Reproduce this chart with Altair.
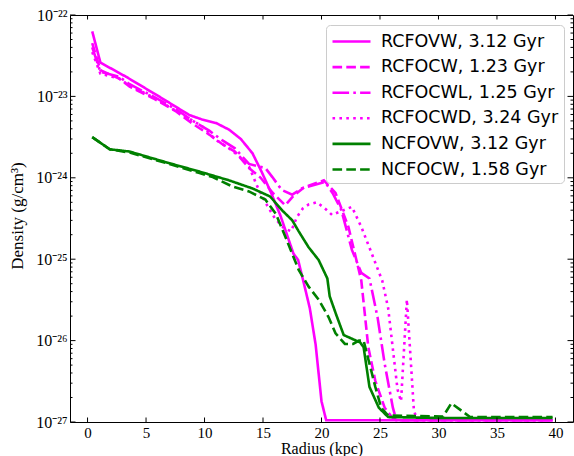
import json
import altair as alt
import pandas as pd

# ---------------- data ----------------
SERIES = ["RCFOVW, 3.12 Gyr", "RCFOCW, 1.23 Gyr", "RCFOCWL, 1.25 Gyr",
          "RCFOCWD, 3.24 Gyr", "NCFOVW, 3.12 Gyr", "NCFOCW, 1.58 Gyr"]

RCFOVW_R = [0.4, 1.1, 3.3, 6.1, 8.7, 9.8, 11.0, 12.1, 13.1, 14.1, 14.9, 15.7, 16.5,
            17.6, 18.0, 18.5, 19.0, 19.5, 20.0, 20.4, 25.0, 30.0, 35.0, 39.75]
RCFOVW_D = [6.3e-23, 2.6e-23, 1.74e-23, 1.0e-23, 5.9e-24, 5.2e-24, 4.7e-24, 3.9e-24,
            3.0e-24, 2.0e-24, 1.17e-24, 6.5e-25, 3.4e-25, 1.17e-25, 9.8e-26, 5.0e-26,
            2.5e-26, 8.9e-27, 1.8e-27, 1.05e-27, 1.05e-27, 1.05e-27, 1.05e-27, 1.05e-27]

RCFOCW_R = [0.4, 1.1, 2.7, 3.6, 5.6, 7.6, 9.0, 10.4, 11.5, 12.6, 13.8, 14.8, 15.8, 16.9,
            17.6, 18.5, 20.2, 21.2, 22.3, 23.4, 24.0, 24.6, 25.4, 26.0, 26.5, 30.0, 35.0, 39.75]
RCFOCW_D = [4.5e-23, 2.1e-23, 1.66e-23, 1.32e-23, 9.5e-24, 6.5e-24, 4.6e-24, 3.4e-24,
            2.6e-24, 2.1e-24, 1.32e-24, 1.0e-24, 6.6e-25, 4.6e-25, 6.0e-25, 7.6e-25,
            9.3e-25, 6.5e-25, 2.5e-25, 5.5e-26, 8.3e-27, 3.2e-27, 1.5e-27, 1.15e-27,
            1.05e-27, 1.05e-27, 1.05e-27, 1.05e-27]

RCFOCWL_R = [0.4, 1.1, 2.7, 3.6, 5.6, 7.6, 9.0, 10.4, 11.5, 12.6, 13.8, 14.6, 15.2, 15.8,
             16.6, 17.5, 18.3, 20.3, 21.0, 21.7, 22.6, 23.4, 24.1, 24.8, 25.4, 26.1, 26.4,
             30.0, 35.0, 39.75]
RCFOCWL_D = [4.0e-23, 2.0e-23, 1.74e-23, 1.41e-23, 1.0e-23, 6.9e-24, 5.0e-24, 3.8e-24,
             2.9e-24, 2.3e-24, 1.48e-24, 1.38e-24, 1.32e-24, 1.02e-24, 7.1e-25, 6.2e-25,
             7.4e-25, 8.9e-25, 6.3e-25, 4.0e-25, 1.3e-25, 6.8e-26, 5.8e-26, 1.9e-26,
             5.2e-27, 1.5e-27, 1.05e-27, 1.05e-27, 1.05e-27, 1.05e-27]

RCFOCWD_R = [0.4, 1.1, 2.7, 3.6, 5.6, 7.6, 9.8, 11.0, 12.1, 13.0, 13.8, 14.5, 15.2, 16.0,
             16.8, 17.4, 17.9, 18.4, 18.9, 19.6, 20.3, 20.9, 21.7, 22.6, 23.4, 24.3, 25.2,
             25.7, 26.1, 26.5, 26.8, 27.3, 27.9, 28.2, 30.0, 35.0, 39.75]
RCFOCWD_D = [3.5e-23, 1.9e-23, 1.66e-23, 1.35e-23, 9.8e-24, 6.6e-24, 4.3e-24, 2.9e-24,
             2.3e-24, 1.82e-24, 1.38e-24, 7.9e-25, 5.0e-25, 3.2e-25, 2.4e-25, 2.2e-25,
             3.3e-25, 4.2e-25, 4.7e-25, 5.0e-25, 4.2e-25, 3.5e-25, 3.9e-25, 4.4e-25,
             2.5e-25, 1.17e-25, 5.4e-26, 2.5e-26, 7.9e-27, 2.5e-27, 1.8e-27, 3.2e-26,
             1.38e-27, 1.05e-27, 1.05e-27, 1.05e-27, 1.05e-27]

NCFOVW_R = [0.4, 1.9, 3.6, 7.0, 9.5, 12.1, 14.1, 15.6, 16.7, 17.5, 18.05, 18.9, 19.75,
            20.5, 20.7, 21.3, 21.9, 23.3, 23.6, 24.1, 24.9, 25.7, 30.0, 35.0, 39.75]
NCFOVW_D = [3.16e-24, 2.24e-24, 2.1e-24, 1.51e-24, 1.2e-24, 9.3e-25, 7.4e-25, 5.9e-25,
            3.9e-25, 3.0e-25, 2.2e-25, 1.4e-25, 9.8e-26, 5.8e-26, 3.5e-26, 2.0e-26,
            1.17e-26, 9.5e-27, 8.3e-27, 2.7e-27, 1.5e-27, 1.15e-27, 1.12e-27, 1.12e-27, 1.12e-27]

NCFOCW_R = [0.4, 1.9, 3.6, 7.0, 9.5, 10.7, 12.4, 13.8, 15.2, 16.1, 16.9, 18.05, 18.9,
            19.75, 20.6, 21.2, 22.0, 22.7, 23.2, 23.6, 24.1, 24.6, 25.1, 25.7, 30.4, 31.1,
            32.7, 35.0, 39.75]
NCFOCW_D = [3.16e-24, 2.24e-24, 2.04e-24, 1.48e-24, 1.15e-24, 1.02e-24, 7.8e-25, 6.8e-25,
            5.4e-25, 3.6e-25, 1.9e-25, 7.4e-26, 4.6e-26, 3.2e-26, 1.95e-26, 1.23e-26,
            9.1e-27, 9.1e-27, 1.0e-26, 1.0e-26, 5.2e-27, 2.7e-27, 1.5e-27, 1.2e-27,
            1.17e-27, 1.7e-27, 1.15e-27, 1.15e-27, 1.15e-27]

X_TICKS = [0, 5, 10, 15, 20, 25, 30, 35, 40]
Y_TICKS = [1e-27, 1e-26, 1e-25, 1e-24, 1e-23, 1e-22]
Y_LABELS = ["10⁻²⁷", "10⁻²⁶", "10⁻²⁵", "10⁻²⁴", "10⁻²³", "10⁻²²"]

# ---------------- styles ----------------
COLORS = ["#ff00ff", "#ff00ff", "#ff00ff", "#ff00ff", "#008000", "#008000"]
LW = 2.6
DASHES = [[1, 0], [9.6, 4.2], [16.6, 4.2, 2.6, 4.2], [2.6, 4.3], [1, 0], [9.6, 4.2]]
MAJOR_LEN, MINOR_LEN = 4.5, 2.5

W, H = 503, 407
SERIF = "Liberation Serif"

# ---------------- table ----------------
pairs = [(RCFOVW_R, RCFOVW_D), (RCFOCW_R, RCFOCW_D), (RCFOCWL_R, RCFOCWL_D),
         (RCFOCWD_R, RCFOCWD_D), (NCFOVW_R, NCFOVW_D), (NCFOCW_R, NCFOCW_D)]
rows = []
for name, (rr, dd) in zip(SERIES, pairs):
    for i, (r, d) in enumerate(zip(rr, dd)):
        rows.append({"series": name, "r": r, "d": d, "i": i})
df = pd.DataFrame(rows)

Y_MINOR = [k * 10.0 ** e for e in range(-27, -22) for k in range(2, 10)]
xt = pd.DataFrame({"r": X_TICKS})
yt = pd.DataFrame({"d": Y_TICKS})
ym = pd.DataFrame({"d": Y_MINOR})

xs = alt.Scale(domain=[-1.5, 41.5], nice=False, zero=False)
ys = alt.Scale(type="log", domain=[1e-27, 1e-22], nice=False)

label_expr = json.dumps(Y_LABELS, ensure_ascii=False) + "[round(log(datum.value)/LN10)+27]"

lines = alt.Chart(df).mark_line(strokeWidth=LW, clip=True).encode(
    x=alt.X("r:Q", scale=xs, axis=alt.Axis(
        values=X_TICKS, ticks=False, domain=False, grid=False, labelFlush=False,
        labelFont=SERIF, labelFontSize=15, labelPadding=3, labelColor="black",
        title="Radius  (kpc)", titleFont=SERIF, titleFontSize=16, titleFontWeight="normal",
        titleColor="black", titleY=18, titleBaseline="top")),
    y=alt.Y("d:Q", scale=ys, axis=alt.Axis(
        values=Y_TICKS, labelExpr=label_expr, ticks=False, domain=False, grid=False,
        labelFont=SERIF, labelFontSize=16, labelPadding=3, labelColor="black",
        title="Density  (g/cm³)", titleFont=SERIF, titleFontSize=17,
        titleFontWeight="normal", titleColor="black", titleX=-53, titleY=H / 2 - 3,
        titleAngle=-90, titleAlign="center", titleBaseline="middle")),
    color=alt.Color("series:N", scale=alt.Scale(domain=SERIES, range=COLORS),
                    legend=alt.Legend(title=None)),
    strokeDash=alt.StrokeDash("series:N", scale=alt.Scale(domain=SERIES, range=DASHES),
                              legend=alt.Legend(title=None)),
    order="i:Q",
)


def xticks(y0, y1):
    return alt.Chart(xt).mark_rule(color="black", strokeWidth=1).encode(
        x=alt.X("r:Q", scale=xs, axis=None), y=alt.value(y0), y2=alt.value(y1))


def yticks(data, x0, x1):
    return alt.Chart(data).mark_rule(color="black", strokeWidth=1).encode(
        y=alt.Y("d:Q", scale=ys, axis=None), x=alt.value(x0), x2=alt.value(x1))


tick_layers = [
    xticks(H, H - MAJOR_LEN), xticks(0, MAJOR_LEN),
    yticks(yt, 0, MAJOR_LEN + 1), yticks(yt, W, W - MAJOR_LEN - 1),
    yticks(ym, 0, MINOR_LEN), yticks(ym, W, W - MINOR_LEN),
]

chart = alt.layer(lines, *tick_layers).resolve_axis(
    x="independent", y="independent"
).properties(
    width=W, height=H,
    autosize=alt.AutoSizeParams(type="none"),
    padding={"left": 70, "top": 15, "right": 1, "bottom": 34},
    background="white",
).configure_view(
    stroke="black", strokeWidth=1
).configure_legend(
    orient="none", legendX=256, legendY=10, padding=5,
    fillColor="white", strokeColor="#cccccc", cornerRadius=4,
    labelFont="DejaVu Sans", labelFontSize=17.5, labelColor="black", labelLimit=400,
    symbolType="M-1,0H2.8", symbolSize=400, symbolStrokeWidth=LW,
    rowPadding=5.6, labelOffset=27,
)

chart.save("out.html", embed_options={"renderer": "svg", "actions": False})
